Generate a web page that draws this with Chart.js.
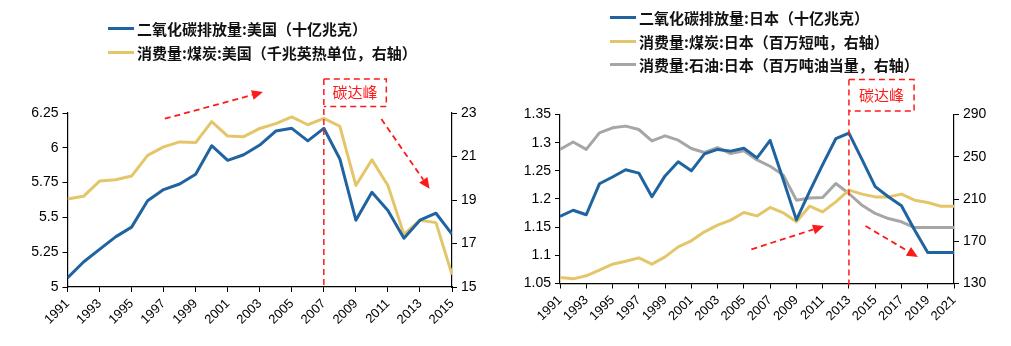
<!DOCTYPE html>
<html>
<head>
<meta charset="utf-8">
<script src="https://cdn.jsdelivr.net/npm/chart.js@4/dist/chart.umd.min.js"></script>
<style>
  html, body { margin: 0; padding: 0; background: #fff; }
  #wrap { position: relative; width: 1011px; height: 346px; overflow: hidden; }
  canvas { position: absolute; top: 0; }
  .legend { position: absolute; font-family: "Noto Sans CJK SC", sans-serif; font-weight: bold; font-size: 15px; color: #111; }
  .legend .row { display: flex; align-items: center; white-space: nowrap; }
  .legend .swatch { display: inline-block; width: 26px; height: 3px; margin-right: 3px; }
</style>
</head>
<body>
<div id="wrap">
  <canvas id="us" width="505" height="346" style="left:0"></canvas>
  <canvas id="jp" width="506" height="346" style="left:505px"></canvas>
  <div class="legend" id="usLegend" style="left:108px; top:17px;"></div>
  <div class="legend" id="jpLegend" style="left:610px; top:6px;"></div>
</div>
<script>
// United States, 1991-2015
const usYears = [1991,1992,1993,1994,1995,1996,1997,1998,1999,2000,2001,2002,2003,2004,2005,2006,2007,2008,2009,2010,2011,2012,2013,2014,2015];
const usCO2 = [5.065,5.18,5.27,5.36,5.43,5.62,5.70,5.74,5.81,6.015,5.91,5.95,6.02,6.12,6.14,6.05,6.14,5.92,5.48,5.68,5.55,5.35,5.48,5.53,5.38];
const usCoal = [19.05,19.17,19.87,19.93,20.10,21.05,21.44,21.67,21.64,22.60,21.94,21.91,22.29,22.51,22.82,22.46,22.75,22.39,19.67,20.85,19.67,17.42,18.07,17.96,15.57];
const usLabels = ['二氧化碳排放量:美国（十亿兆克）', '消费量:煤炭:美国（千兆英热单位，右轴）'];

// Japan, 1991-2021
const jpYears = [1991,1992,1993,1994,1995,1996,1997,1998,1999,2000,2001,2002,2003,2004,2005,2006,2007,2008,2009,2010,2011,2012,2013,2014,2015,2016,2017,2018,2019,2020,2021];
const jpCO2 = [1.169,1.18,1.172,1.227,1.239,1.252,1.246,1.204,1.241,1.266,1.25,1.28,1.288,1.285,1.29,1.273,1.304,1.234,1.163,1.213,1.261,1.307,1.317,1.27,1.222,1.204,1.188,1.145,1.105,1.105,1.105];
const jpCoal = [135.7,134.4,137.3,142.6,148.3,151.1,154.3,148.3,155.2,164.7,170.4,178.9,185.2,190,197.2,194,202,196.9,188.4,203.2,197.8,207.3,218.4,214.6,212,212,214.6,208.9,206.7,203.2,203.2];
const jpOil = [256.9,264,257,272.6,277.4,279,275.8,265,269.8,265.7,257.8,254,258.7,253,255.6,247,241,232.6,208.9,211,211.4,224.7,215.2,204,196.3,191.5,188.4,183,183,183,183];
const jpLabels = ['二氧化碳排放量:日本（十亿兆克）', '消费量:煤炭:日本（百万短吨，右轴）', '消费量:石油:日本（百万吨油当量，右轴）'];

const peakText = '碳达峰';
const BLUE = '#1f64a0', GOLD = '#e4c66a', GREY = '#a6a6a6', RED = '#ff1a1a';

function pts(xs, ys) { return xs.map((x, i) => ({ x: x, y: ys[i] })); }
function trim(v) { return String(+v.toFixed(2)); }

// red dashed peak marker, label box and trend arrows, placed in data units
const peakPlugin = {
  id: 'peakMarks',
  afterDatasetsDraw(chart, args, o) {
    const ctx = chart.ctx, xs = chart.scales.x, ys = chart.scales.y, area = chart.chartArea;
    const X = v => xs.getPixelForValue(v), Y = v => ys.getPixelForValue(v);
    ctx.save();
    ctx.strokeStyle = RED; ctx.fillStyle = RED; ctx.lineWidth = 1.5;
    ctx.setLineDash([6, 4]);
    const xp = X(o.peakYear), xb = X(o.boxEndYear), yt = Y(o.boxTop), yb = Y(o.boxBottom);
    ctx.beginPath(); ctx.moveTo(xp, yt); ctx.lineTo(xp, area.bottom + 2); ctx.stroke();
    ctx.beginPath(); ctx.moveTo(xp, yt); ctx.lineTo(xb, yt); ctx.lineTo(xb, yb); ctx.lineTo(xp, yb); ctx.stroke();
    ctx.setLineDash([]);
    ctx.font = '15px "Noto Sans CJK SC", sans-serif';
    ctx.textAlign = 'center'; ctx.textBaseline = 'middle';
    ctx.fillText(peakText, (xp + xb) / 2, (yt + yb) / 2);
    o.arrows.forEach(a => {
      const x1 = X(a[0]), y1 = Y(a[1]), x2 = X(a[2]), y2 = Y(a[3]);
      const ang = Math.atan2(y2 - y1, x2 - x1), L = 11, W = 5;
      const bx = x2 - L * Math.cos(ang), by = y2 - L * Math.sin(ang);
      ctx.lineWidth = 1.8; ctx.setLineDash([6, 4]);
      ctx.beginPath(); ctx.moveTo(x1, y1); ctx.lineTo(bx, by); ctx.stroke();
      ctx.setLineDash([]);
      ctx.beginPath();
      ctx.moveTo(x2, y2);
      ctx.lineTo(bx + W * Math.sin(ang), by - W * Math.cos(ang));
      ctx.lineTo(bx - W * Math.sin(ang), by + W * Math.cos(ang));
      ctx.closePath(); ctx.fill();
    });
    ctx.restore();
  }
};

const tickFont = { family: '"Liberation Sans", Arial, sans-serif', size: 14 };
const xFont = { family: '"Liberation Sans", Arial, sans-serif', size: 13 };

function yearAxis(years, height) {
  return {
    type: 'linear', position: 'bottom', min: years[0], max: years[years.length - 1],
    afterBuildTicks: s => { s.ticks = years.filter((y, i) => i % 2 === 0).map(v => ({ value: v })); },
    afterFit: s => { s.height = height; },
    ticks: { autoSkip: false, minRotation: 45, maxRotation: 45, padding: 4, color: '#000', font: xFont, callback: v => String(v) },
    grid: { drawOnChartArea: false, drawTicks: true, tickLength: 5, color: '#000', lineWidth: 1 },
    border: { display: true, color: '#000', width: 1.2 }
  };
}
function valueAxis(pos, min, max, step, width) {
  return {
    type: 'linear', position: pos, min: min, max: max,
    afterFit: s => { s.width = width; },
    ticks: { stepSize: step, padding: 4, color: '#000', font: tickFont, callback: trim },
    grid: { drawOnChartArea: false, drawTicks: true, tickLength: 5, color: '#000', lineWidth: 1 },
    border: { display: true, color: '#000', width: 1.2 }
  };
}
function line(label, data, color, axis) {
  return { label: label, data: data, borderColor: color, backgroundColor: color, borderWidth: 3,
           pointRadius: 0, tension: 0, yAxisID: axis, fill: false, borderJoinStyle: 'round' };
}
function baseOptions(scales, top, marks) {
  return {
    responsive: false, animation: false, devicePixelRatio: 1,
    layout: { padding: { top: top, left: 0, right: 0, bottom: 0 } },
    plugins: { legend: { display: false }, tooltip: { enabled: false }, peakMarks: marks },
    scales: scales
  };
}
function htmlLegend(el, chart) {
  el.innerHTML = chart.data.datasets.map(d =>
    '<div class="row" style="height:23.5px"><span class="swatch" style="background:' + d.borderColor + '"></span>' + d.label + '</div>'
  ).join('');
}

const usChart = new Chart(document.getElementById('us'), {
  type: 'line',
  data: { datasets: [
    line(usLabels[0], pts(usYears, usCO2), BLUE, 'y'),
    line(usLabels[1], pts(usYears, usCoal), GOLD, 'y1')
  ] },
  options: baseOptions({
    x: yearAxis(usYears, 59),
    y: valueAxis('left', 5, 6.25, 0.25, 67.5),
    y1: valueAxis('right', 15, 23, 2, 53)
  }, 113, {
    peakYear: 2007, boxEndYear: 2010.9, boxTop: 6.494, boxBottom: 6.297,
    arrows: [[1997.07, 6.209, 2003.2, 6.40], [2010.59, 6.207, 2013.6, 5.705]]
  }),
  plugins: [peakPlugin]
});
htmlLegend(document.getElementById('usLegend'), usChart);

const jpChart = new Chart(document.getElementById('jp'), {
  type: 'line',
  data: { datasets: [
    line(jpLabels[0], pts(jpYears, jpCO2), BLUE, 'y'),
    line(jpLabels[1], pts(jpYears, jpCoal), GOLD, 'y1'),
    line(jpLabels[2], pts(jpYears, jpOil), GREY, 'y1')
  ] },
  options: baseOptions({
    x: yearAxis(jpYears, 62.5),
    y: valueAxis('left', 1.05, 1.35, 0.05, 55),
    y1: valueAxis('right', 130, 290, 40, 57)
  }, 114.5, {
    peakYear: 2013, boxEndYear: 2017.96, boxTop: 1.412, boxBottom: 1.356,
    arrows: [[2005.57, 1.1106, 2011.1, 1.152], [2014.26, 1.152, 2018.25, 1.097]]
  }),
  plugins: [peakPlugin]
});
// grey line sits under the others
jpChart.data.datasets[2].order = 2;
jpChart.data.datasets[0].order = 0;
jpChart.data.datasets[1].order = 1;
jpChart.update();
htmlLegend(document.getElementById('jpLegend'), jpChart);
</script>
</body>
</html>
